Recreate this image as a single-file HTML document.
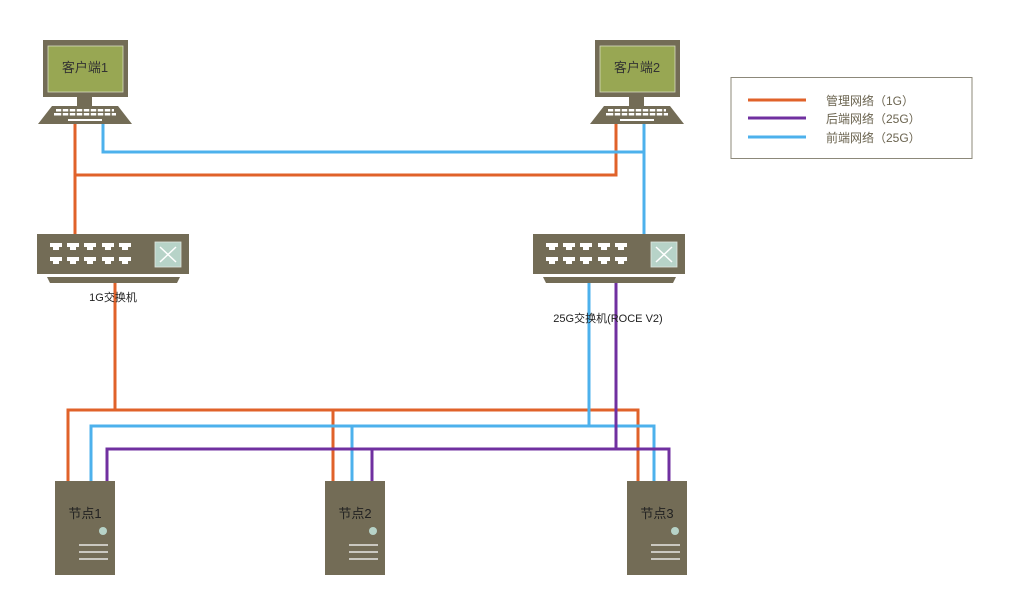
<!DOCTYPE html>
<html><head><meta charset="utf-8"><style>
html,body{margin:0;padding:0;background:#fff;}
svg{display:block;}
text{font-family:"Liberation Sans","Noto Sans CJK SC",sans-serif;}
</style></head><body>
<svg width="1011" height="594" viewBox="0 0 1011 594" xmlns="http://www.w3.org/2000/svg">
<defs>
<g id="port"><rect x="0" y="0" width="12" height="4" fill="#fff"/><rect x="3" y="4" width="6" height="3" fill="#fff"/></g>
<g id="pc">
  <rect x="0" y="0" width="85" height="57" fill="#736c56"/>
  <rect x="5" y="6" width="75" height="46" fill="#98a753" stroke="#d8dcc0" stroke-width="0.8"/>
  <rect x="34" y="57" width="15" height="9" fill="#736c56"/>
  <polygon points="9,66 75,66 89,84 -5,84" fill="#736c56"/>
  <g fill="#fff">
    <rect x="13" y="69" width="58" height="2.5"/>
    <rect x="11" y="73" width="62" height="2.5"/>
    <rect x="25" y="79" width="34" height="2"/>
  </g>
  <g stroke="#736c56" stroke-width="1.5">
    <line x1="19" y1="68" x2="19" y2="76"/><line x1="26" y1="68" x2="26" y2="76"/><line x1="33" y1="68" x2="33" y2="76"/><line x1="40" y1="68" x2="40" y2="76"/><line x1="47" y1="68" x2="47" y2="76"/><line x1="54" y1="68" x2="54" y2="76"/><line x1="61" y1="68" x2="61" y2="76"/><line x1="68" y1="68" x2="68" y2="76"/>
  </g>
</g>
<g id="sw">
  <rect x="0" y="0" width="152" height="40" fill="#736c56"/>
  <polygon points="10,43 143,43 140,49 13,49" fill="#736c56"/>
  <use href="#port" x="13" y="9"/><use href="#port" x="30" y="9"/><use href="#port" x="47" y="9"/><use href="#port" x="65" y="9"/><use href="#port" x="82" y="9"/>
  <use href="#port" x="13" y="23"/><use href="#port" x="30" y="23"/><use href="#port" x="47" y="23"/><use href="#port" x="65" y="23"/><use href="#port" x="82" y="23"/>
  <rect x="118" y="8" width="26" height="25" fill="#b7d3c8" stroke="#e0e8e0" stroke-width="0.8"/>
  <path d="M123,13 L139,28 M139,13 L123,28" stroke="#fff" stroke-width="1.5" fill="none"/>
</g>
<g id="node">
  <rect x="0" y="0" width="60" height="94" fill="#736c56"/>
  <circle cx="48" cy="50" r="4" fill="#b7d3c8"/>
  <g stroke="#fff" stroke-width="1.3"><line x1="24" y1="64" x2="53" y2="64"/><line x1="24" y1="71" x2="53" y2="71"/><line x1="24" y1="78" x2="53" y2="78"/></g>
</g>
</defs>

<!-- top lines -->
<g fill="none" stroke-width="3">
<polyline points="75,120 75,234" stroke="#e0622a"/>
<polyline points="75,175 616,175 616,120" stroke="#e0622a"/>
<polyline points="103,120 103,152 644,152" stroke="#4db1ec"/>
<polyline points="644,120 644,234" stroke="#4db1ec"/>
<!-- bottom -->
<polyline points="115,283 115,410" stroke="#e0622a"/>
<polyline points="68,481 68,410 638,410 638,481" stroke="#e0622a"/>
<polyline points="333,410 333,481" stroke="#e0622a"/>
<polyline points="91,481 91,426 654,426 654,481" stroke="#4db1ec"/>
<polyline points="352,426 352,481" stroke="#4db1ec"/>
<polyline points="589,283 589,426" stroke="#4db1ec"/>
<polyline points="107,481 107,449 669,449 669,481" stroke="#7030a0"/>
<polyline points="372,449 372,481" stroke="#7030a0"/>
<polyline points="616,283 616,449" stroke="#7030a0"/>
</g>

<use href="#pc" x="43" y="40"/>
<use href="#pc" x="595" y="40"/>
<text x="85" y="72" font-size="13" fill="#333" text-anchor="middle">客户端1</text>
<text x="637" y="72" font-size="13" fill="#333" text-anchor="middle">客户端2</text>

<use href="#sw" x="37" y="234"/>
<use href="#sw" x="533" y="234"/>
<text x="113" y="301" font-size="11" fill="#222" text-anchor="middle">1G交换机</text>
<text x="608" y="322" font-size="11" fill="#222" text-anchor="middle">25G交换机(ROCE V2)</text>

<use href="#node" x="55" y="481"/>
<use href="#node" x="325" y="481"/>
<use href="#node" x="627" y="481"/>
<text x="85" y="518" font-size="13" fill="#222" text-anchor="middle">节点1</text>
<text x="355" y="518" font-size="13" fill="#222" text-anchor="middle">节点2</text>
<text x="657" y="518" font-size="13" fill="#222" text-anchor="middle">节点3</text>

<!-- legend -->
<rect x="731" y="77.5" width="241" height="81" fill="#fff" stroke="#8c887a" stroke-width="1"/>
<line x1="748" y1="100" x2="806" y2="100" stroke="#e0622a" stroke-width="3"/>
<line x1="748" y1="118" x2="806" y2="118" stroke="#7030a0" stroke-width="3"/>
<line x1="748" y1="137" x2="806" y2="137" stroke="#4db1ec" stroke-width="3"/>
<g font-size="12" fill="#6b6450">
<text x="826" y="105">管理网络（1G）</text>
<text x="826" y="123">后端网络（25G）</text>
<text x="826" y="142">前端网络（25G）</text>
</g>
</svg>
</body></html>
